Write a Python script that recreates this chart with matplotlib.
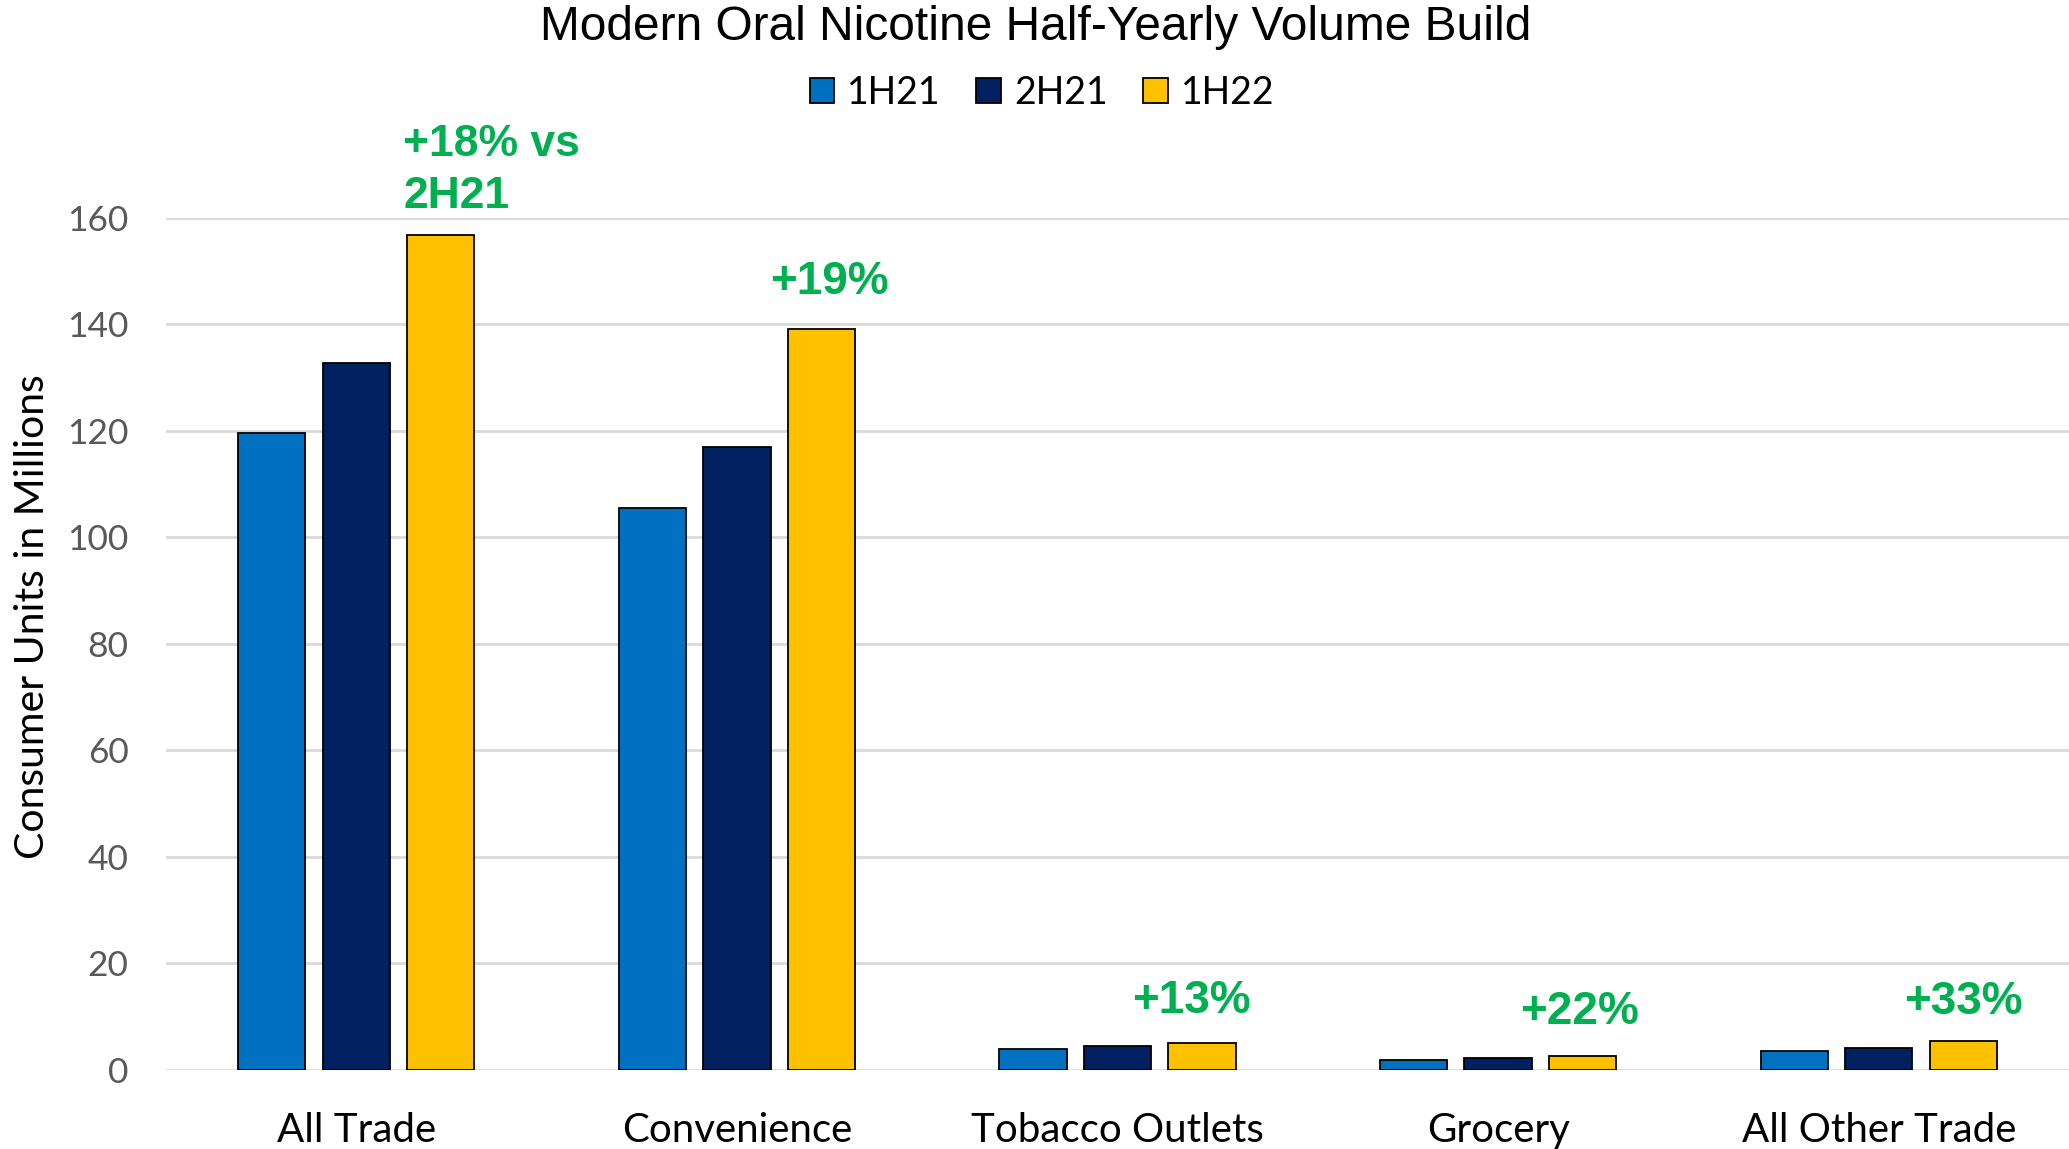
import numpy as np
import matplotlib.pyplot as plt

categories = ["All Trade", "Convenience", "Tobacco Outlets", "Grocery", "All Other Trade"]
series_names = ["1H21", "2H21", "1H22"]
vol_1h21 = [119.6, 105.5, 3.95, 1.8, 3.6]
vol_2h21 = [132.8, 116.9, 4.45, 2.2, 4.05]
vol_1h22 = [156.8, 139.2, 5.05, 2.68, 5.38]
growth_labels = ["+18% vs\n2H21", "+19%", "+13%", "+22%", "+33%"]
y_ticks = [0, 20, 40, 60, 80, 100, 120, 140, 160]

colors = ["#0070C0", "#002060", "#FFC000"]
green = "#00B050"
body_font = ["Lato", "DejaVu Sans"]
note_font = ["Liberation Sans", "DejaVu Sans"]

# nudges (x in category units, y in data units) for the growth call-outs
note_dx = [0.0, 0.021, -0.028, -0.007, 0.0]
note_dy = [12.1, 8.7, 7.9, 8.2, 7.3]

fig = plt.figure(figsize=(20.69, 11.49), dpi=100)
ax = fig.add_axes([0.0802, 0.0688, 0.9198, 0.7417])

x = np.arange(len(categories))
bar_w = 0.177
step = 0.222
series = [vol_1h21, vol_2h21, vol_1h22]
for i, (name, vals) in enumerate(zip(series_names, series)):
    ax.bar(x + (i - 1) * step, vals, width=bar_w, color=colors[i],
           edgecolor="black", linewidth=1.3, label=name, zorder=3)

# growth call-outs above the 1H22 bars
for i, text in enumerate(growth_labels):
    if i == 0:
        ax.text(x[i] + step - bar_w / 2 - 0.01, vol_1h22[i] + note_dy[i], text,
                ha="left", va="center", color=green, fontsize=32,
                fontweight="bold", family=note_font, linespacing=1.35,
                clip_on=False)
    else:
        ax.text(x[i] + step + note_dx[i], vol_1h22[i] + note_dy[i],
                text, ha="center", va="center", color=green, fontsize=33,
                fontweight="bold", family=note_font, clip_on=False)

ax.set_xlim(-0.5, len(categories) - 0.5)
ax.set_ylim(0, 160)
ax.set_yticks(y_ticks)
ax.set_xticks(x)
ax.set_xticklabels(categories, fontsize=29, family=body_font, color="black")
ax.tick_params(axis="x", length=0, pad=30)
ax.tick_params(axis="y", length=0, pad=27, labelsize=25.5, labelcolor="#595959")
for lab in ax.get_yticklabels():
    lab.set_family(body_font)

ax.grid(axis="y", color="#D9D9D9", linewidth=2, zorder=0)
for side in ["top", "right", "left", "bottom"]:
    ax.spines[side].set_visible(False)

ax.set_ylabel("Consumer Units in Millions", fontsize=29.5, family=body_font)
ax.yaxis.set_label_coords(-0.0605, 0.532)

fig.text(1036 / 2069, 1 - 28 / 1149, "Modern Oral Nicotine Half-Yearly Volume Build",
         ha="center", va="center", fontsize=34.5, family=["Liberation Sans", "DejaVu Sans"])

fig.legend(loc="center", bbox_to_anchor=(1042 / 2069, 1 - 93 / 1149), ncol=3,
           frameon=False, prop={"family": body_font, "size": 27},
           handlelength=0.65, handleheight=0.65, handletextpad=0.35, columnspacing=0.95)

fig.savefig("out.png", dpi=100)
